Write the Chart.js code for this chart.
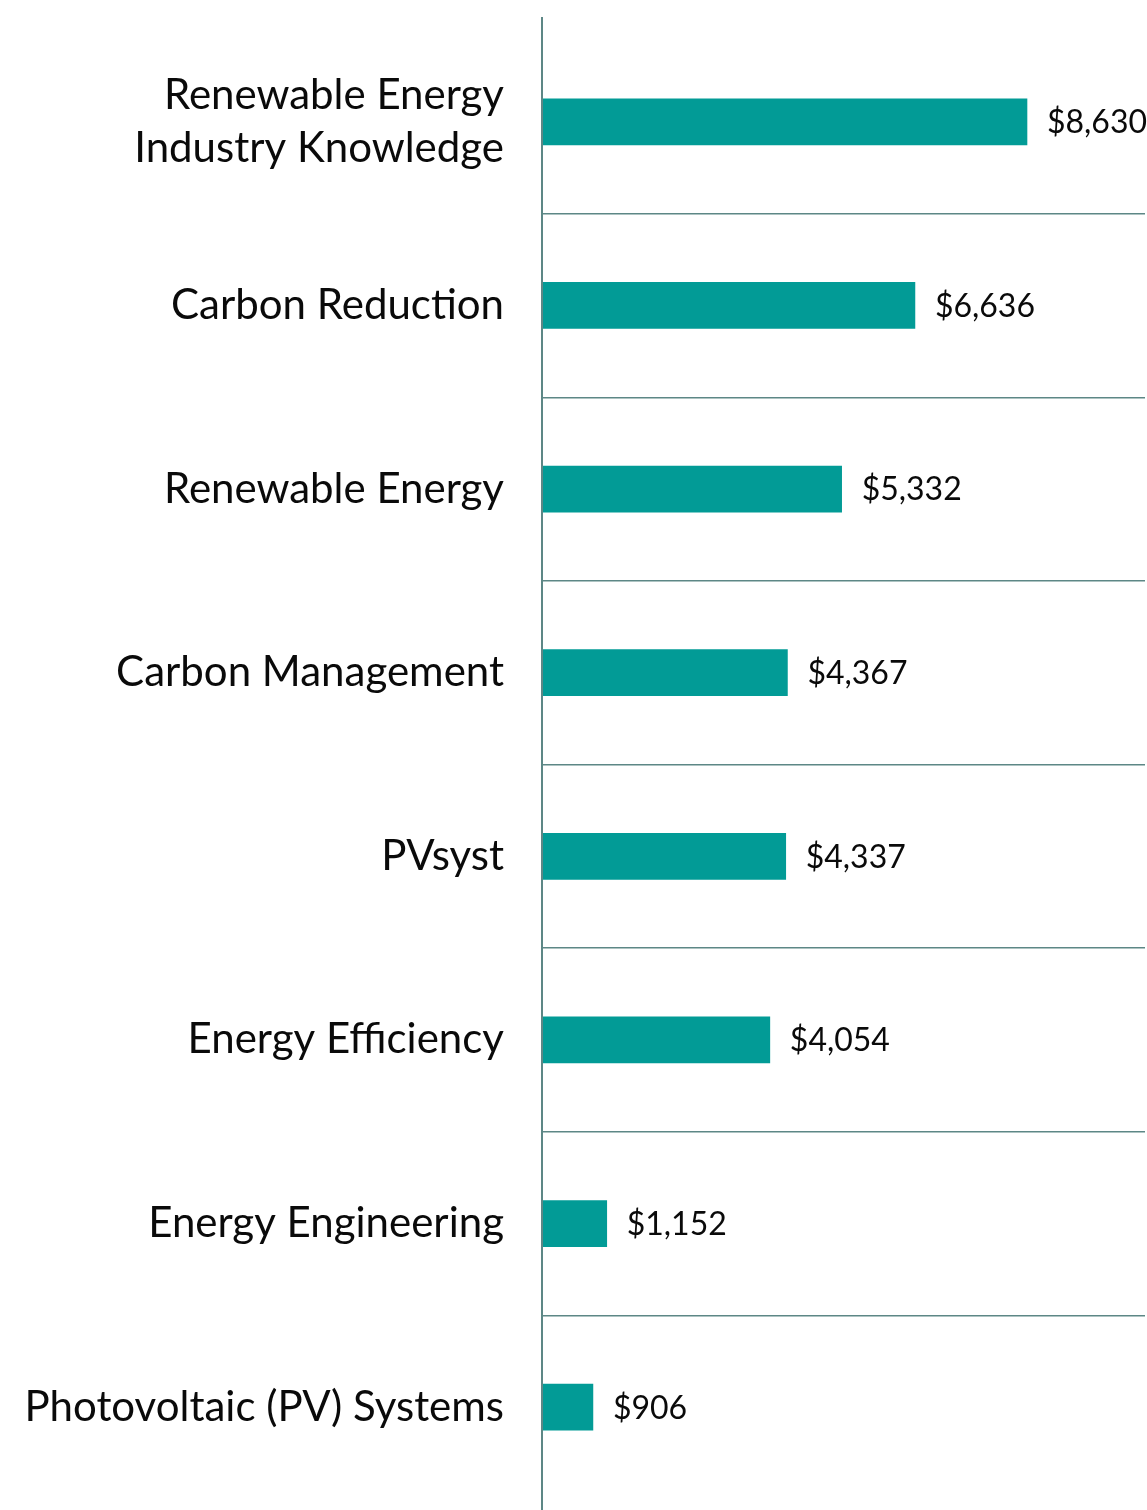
<!DOCTYPE html>
<html>
<head>
<meta charset="utf-8">
<script src="https://cdn.jsdelivr.net/npm/chart.js@4.4.0/dist/chart.umd.min.js"></script>
<style>
    html, body { margin: 0; padding: 0; background: #ffffff; }
    #wrap { position: relative; width: 1147px; height: 1510px; }
</style>
</head>
<body>
<div id="wrap"><canvas id="salaryChart"></canvas></div>
<script>
// skills and average salary premium
const skillLabels = [
    ['Renewable Energy', 'Industry Knowledge'],
    'Carbon Reduction',
    'Renewable Energy',
    'Carbon Management',
    'PVsyst',
    'Energy Efficiency',
    'Energy Engineering',
    'Photovoltaic (PV) Systems'
];
const salaryValues = [8630, 6636, 5332, 4367, 4337, 4054, 1152, 906];
const valueLabels = ['$8,630', '$6,636', '$5,332', '$4,367', '$4,337', '$4,054', '$1,152', '$906'];

const barColor = '#029b96';
const lineColor = '#5d8786';
const fontFamily = 'Lato, "Open Sans", sans-serif';

// draws the $ values at the end of each bar
const valueLabelPlugin = {
    id: 'valueLabels',
    afterDatasetsDraw: function (chart) {
        let ctx = chart.ctx;
        let meta = chart.getDatasetMeta(0);
        ctx.save();
        ctx.font = '32px ' + fontFamily;
        ctx.fillStyle = '#0a0a0a';
        ctx.textAlign = 'left';
        ctx.textBaseline = 'middle';
        meta.data.forEach(function (bar, i) {
            ctx.fillText(valueLabels[i], bar.x + 20, bar.y + 1);
        });
        ctx.restore();
    }
};

// vertical axis line, runs a bit past the plot area
const axisLinePlugin = {
    id: 'axisLine',
    afterDraw: function (chart) {
        let ctx = chart.ctx;
        let x = chart.scales.x.getPixelForValue(0);
        ctx.save();
        ctx.strokeStyle = lineColor;
        ctx.lineWidth = 2;
        ctx.beginPath();
        ctx.moveTo(x, chart.chartArea.top - 13);
        ctx.lineTo(x, chart.height);
        ctx.stroke();
        ctx.restore();
    }
};

const nCats = skillLabels.length;

const config = {
    type: 'bar',
    data: {
        labels: skillLabels,
        datasets: [{
            data: salaryValues,
            backgroundColor: barColor,
            borderWidth: 0,
            barThickness: 46
        }]
    },
    plugins: [valueLabelPlugin, axisLinePlugin],
    options: {
        indexAxis: 'y',
        responsive: true,
        maintainAspectRatio: false,
        animation: false,
        layout: {
            padding: { top: 30, bottom: 11, left: 0, right: 2 }
        },
        plugins: {
            legend: { display: false },
            tooltip: { enabled: false }
        },
        scales: {
            x: {
                display: false,
                min: 0,
                max: 10730
            },
            y: {
                afterFit: function (scale) {
                    scale.width = 542;
                    scale.paddingTop = 0;
                    scale.paddingBottom = 0;
                },
                border: { display: false },
                grid: {
                    offset: true,
                    drawTicks: false,
                    lineWidth: 1.5,
                    color: function (c) {
                        return (c.index > 0 && c.index < nCats) ? lineColor : 'transparent';
                    }
                },
                ticks: {
                    padding: 38,
                    color: '#0a0a0a',
                    font: { family: fontFamily, size: 42, lineHeight: 1.26 }
                }
            }
        }
    }
};

let ctx = document.getElementById('salaryChart');
let salaryChart = new Chart(ctx, config);
</script>
</body>
</html>
